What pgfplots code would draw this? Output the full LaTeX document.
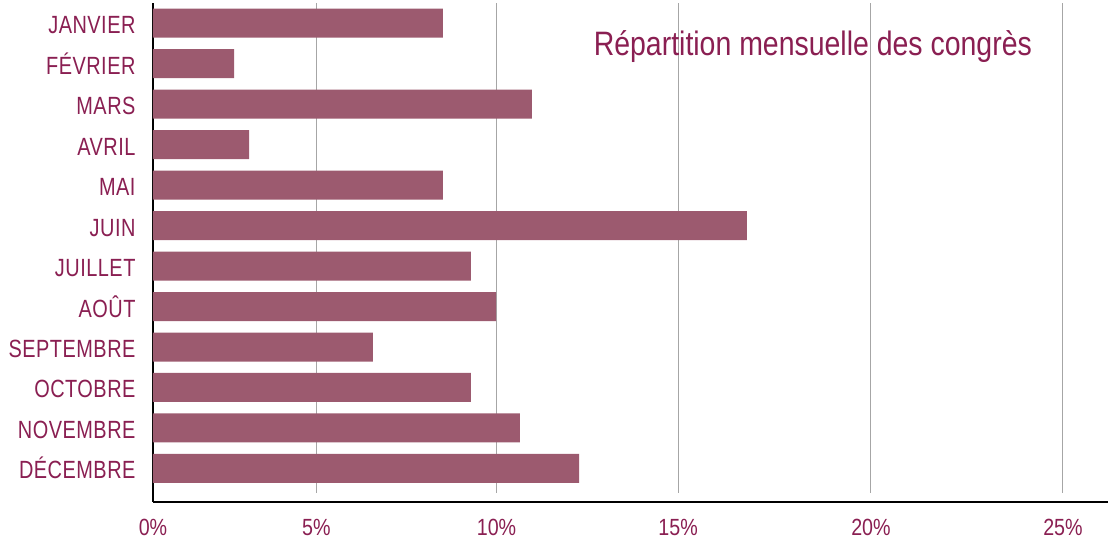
\documentclass[border=0pt]{standalone}
\usepackage{fontspec}
\setmainfont{Liberation Sans}[FakeStretch=0.84]
\newfontfamily\labfont{Liberation Sans}[FakeStretch=0.80, LetterSpace=2]
\usepackage{pgfplots}
\pgfplotsset{compat=1.18}
\definecolor{barc}{HTML}{9C5A6F}
\definecolor{txtc}{HTML}{8A1F52}
\definecolor{gridc}{HTML}{A6A6A6}
\begin{document}
\begin{tikzpicture}
\begin{axis}[
 scale only axis, width=955bp, height=499bp,
 xbar, bar width=29bp,
 xmin=0, xmax=25.66,
 ymin=-0.5, ymax=11.83, y dir=reverse,
 ytick={0,...,11},
 yticklabels={JANVIER,FÉVRIER,MARS,AVRIL,MAI,JUIN,JUILLET,AOÛT,SEPTEMBRE,OCTOBRE,NOVEMBRE,DÉCEMBRE},
 xtick={0,4.39,9.23,14.11,19.29,24.45},
 xticklabels={0\%,5\%,10\%,15\%,20\%,25\%},
 major tick length=0pt,
 axis x line*=bottom, axis y line*=left,
 axis line style={black, line width=1.2bp, -},
 ticklabel style={text=txtc},
 yticklabel style={font=\labfont\fontsize{25}{29}\selectfont, text height=18bp, text depth=0bp, xshift=-14bp, yshift=-1.5bp},
 xticklabel style={font=\fontsize{23.5}{28}\selectfont, text height=17bp, text depth=0bp, yshift=-13bp},
 clip=false,
]
\pgfplotsinvokeforeach{4.39,9.23,14.11,19.29,24.45}{
  \draw[gridc, line width=1bp] (axis cs:#1,-0.5) -- (axis cs:#1,11.6);
}
\addplot[fill=barc, draw=none] coordinates {(7.79,0) (2.18,1) (10.18,2) (2.58,3) (7.79,4) (15.96,5) (8.54,6) (9.22,7) (5.91,8) (8.54,9) (9.86,10) (11.45,11)};
\node[anchor=base, text=txtc, font=\fontsize{34}{40}\selectfont] at (axis cs:17.73,0.805) {Répartition mensuelle des congrès};
\end{axis}
\pgfresetboundingbox
\path ([xshift=-153bp,yshift=-38bp]current axis.south west) rectangle ([xshift=10bp,yshift=3bp]current axis.north east);
\end{tikzpicture}
\end{document}
